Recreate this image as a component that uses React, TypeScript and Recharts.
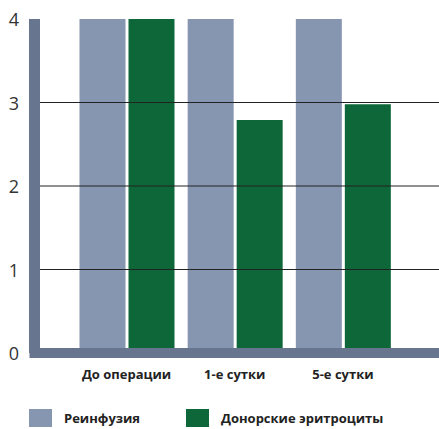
import React from 'react';
import { BarChart, Bar, XAxis, YAxis, ReferenceLine, Legend } from 'recharts';

const categories = ['До операции', '1-е сутки', '5-е сутки'];
const reinfusion = [4, 4, 4];
const donor = [4, 2.79, 2.98];
const yTicks = [0, 1, 2, 3, 4];
const gridValues = [1, 2, 3];
const seriesNames = ['Реинфузия', 'Донорские эритроциты'];

const data = categories.map((c, i) => ({ name: c, a: reinfusion[i], b: donor[i] }));

const BLUE = '#8796b0';
const GREEN = '#0e6739';
const AXIS = '#68758f';
const FONT = '"Open Sans", "Noto Sans", sans-serif';

const YTick = (props: any) => {
  const { y, payload } = props;
  return (
    <text x={19} y={y} textAnchor="end" dominantBaseline="central" fontSize={18} fill="#333" fontFamily={FONT}>
      {payload.value}
    </text>
  );
};

const XTick = (props: any) => {
  const { x, y, payload } = props;
  return (
    <text x={x} y={y + 13} textAnchor="middle" dominantBaseline="central" fontSize={13} fontWeight={700} fill="#222" fontFamily={FONT}>
      {payload.value}
    </text>
  );
};

const LegendContent = () => {
  const colors = [BLUE, GREEN];
  const starts = [29, 186];
  return (
    <svg width={439} height={29} style={{ display: 'block' }}>
      {seriesNames.map((n, i) => (
        <g key={n}>
          <rect x={starts[i]} y={3} width={23} height={18} fill={colors[i]} />
          <text x={starts[i] + 35} y={12} dominantBaseline="central" fontSize={13} fontWeight={700} fill="#222" fontFamily={FONT}>
            {n}
          </text>
        </g>
      ))}
    </svg>
  );
};

export default function App() {
  return (
    <div style={{ position: 'absolute', left: 0, top: 0, width: 439, height: 429, background: '#fff' }}>
      <BarChart
        width={439}
        height={429}
        data={data}
        margin={{ top: 19, right: 0, left: 0, bottom: 0 }}
        barSize={46}
        barGap={3}
      >
        <XAxis
          dataKey="name"
          height={76}
          padding={{ left: 38, right: 42 }}
          tickLine={false}
          axisLine={{ stroke: AXIS, strokeWidth: 10, strokeLinecap: 'square' }}
          tick={<XTick />}
          interval={0}
        />
        <YAxis
          width={34.5}
          domain={[0, 4]}
          ticks={yTicks}
          tickLine={false}
          axisLine={{ stroke: AXIS, strokeWidth: 11 }}
          tick={<YTick />}
          interval={0}
        />
        <Bar dataKey="a" name={seriesNames[0]} fill={BLUE} isAnimationActive={false} />
        <Bar dataKey="b" name={seriesNames[1]} fill={GREEN} isAnimationActive={false} />
        {gridValues.map((v) => (
          <ReferenceLine key={v} y={v} stroke="#222" strokeWidth={1} />
        ))}
        <Legend
          verticalAlign="middle"
          align="center"
          layout="horizontal"
          content={<LegendContent />}
          wrapperStyle={{ position: 'absolute', left: 0, top: 406, width: 439, height: 29 }}
        />
      </BarChart>
    </div>
  );
}
